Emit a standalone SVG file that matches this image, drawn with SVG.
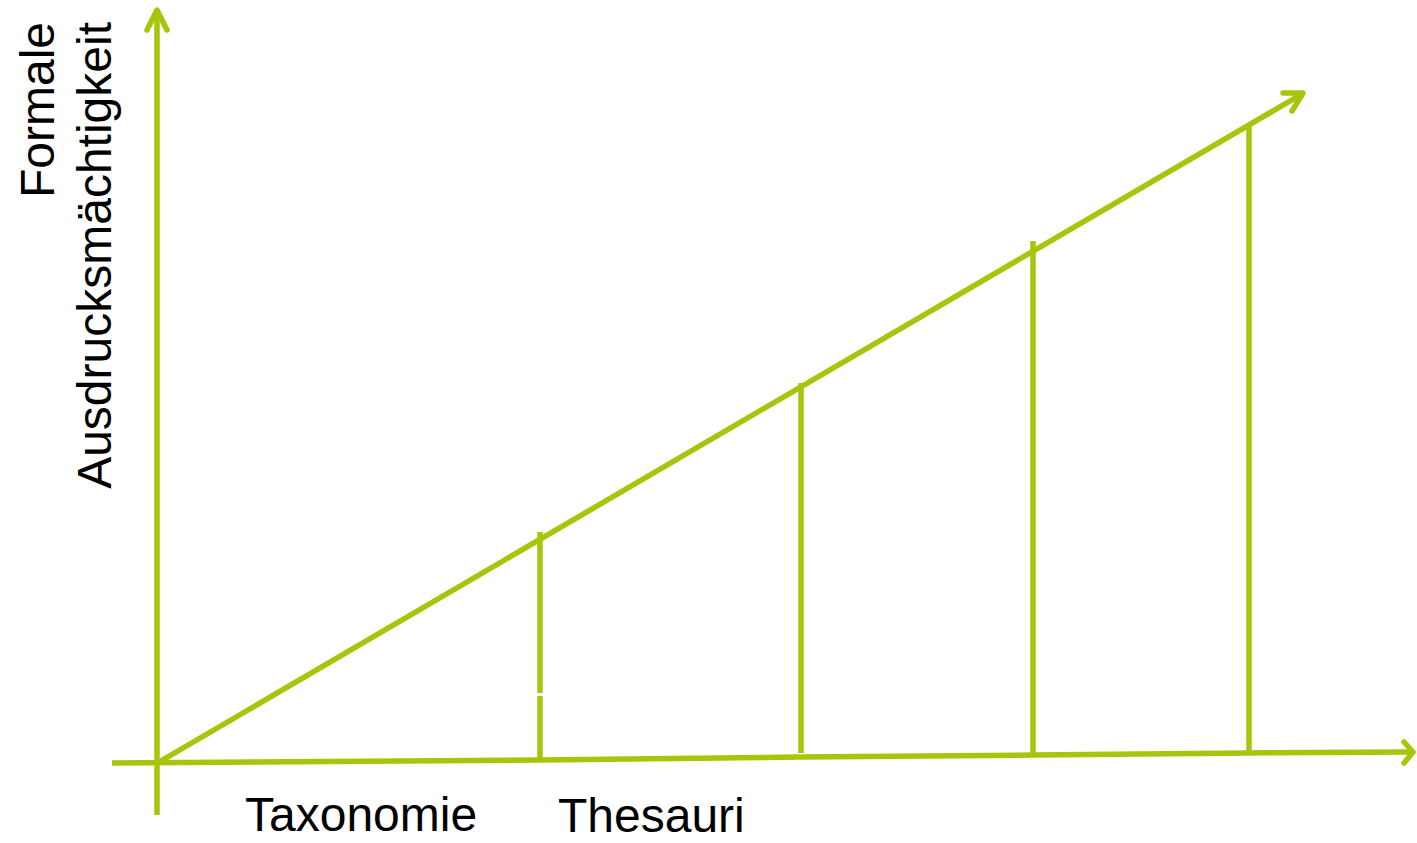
<svg xmlns="http://www.w3.org/2000/svg" width="1417" height="843" viewBox="0 0 1417 843">
<style>
.ln{stroke:#A6C50B;stroke-width:5.5;fill:none}
.hd{stroke:#A6C50B;stroke-width:5.5;fill:none;stroke-linecap:round;stroke-linejoin:round}
.lbl{font-family:"Liberation Sans",Arial,sans-serif;font-size:48px;fill:#000}
</style>
<rect width="1417" height="843" fill="#fff"/>
<g id="connectors">
<line class="ln" x1="157" y1="12" x2="157" y2="815"/>
<polyline class="hd" points="147,30 157,10 167,30"/>
<polyline class="ln" points="112,763 540,760 800,757 1033,755 1248,753 1410,752"/>
<polyline class="hd" points="1404,742 1413,752 1404,763"/>
<line class="ln" x1="159" y1="762" x2="1302" y2="94"/>
<polyline class="hd" points="1283,93 1303,93 1292,111"/>
<line class="ln" x1="540" y1="532" x2="540" y2="693"/>
<line class="ln" x1="540" y1="696" x2="540" y2="762"/>
<line class="ln" x1="801" y1="383" x2="801" y2="753"/>
<line class="ln" x1="1033" y1="241" x2="1033" y2="755"/>
<line class="ln" x1="1249" y1="126" x2="1249" y2="753"/>
</g>
<g id="ylabel">
<text class="lbl" text-anchor="end" transform="translate(54,22) rotate(-90)">Formale</text>
<text class="lbl" text-anchor="end" transform="translate(111,22) rotate(-90)">Ausdrucksmächtigkeit</text>
</g>
<g id="taxonomie"><text class="lbl" x="245" y="831">Taxonomie</text></g>
<g id="thesauri"><text class="lbl" x="558" y="832">Thesauri</text></g>
</svg>
